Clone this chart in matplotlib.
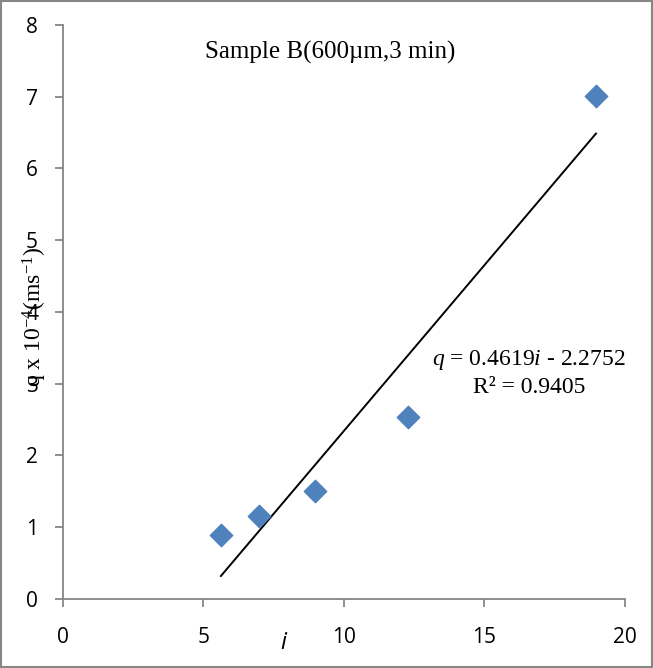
import matplotlib.pyplot as plt
import numpy as np

plt.rcParams['mathtext.fontset'] = 'custom'
plt.rcParams['mathtext.it'] = 'Liberation Serif:italic'
plt.rcParams['mathtext.rm'] = 'Liberation Serif'

i_vals = [5.62, 6.97, 8.97, 12.28, 18.97]
q_vals = [0.89, 1.15, 1.50, 2.54, 7.01]
slope, intercept = 0.4619, -2.2752
x_ticks = [0, 5, 10, 15, 20]
y_ticks = [0, 1, 2, 3, 4, 5, 6, 7, 8]

fig = plt.figure(figsize=(6.53, 6.68), dpi=100)
ax = fig.add_axes([0.0965, 0.1033, 0.8605, 0.8593])

ax.scatter(i_vals, q_vals, marker='D', s=130, color='#4F81BD', zorder=3)
x_fit = np.array([min(i_vals), max(i_vals)])
ax.plot(x_fit, slope * x_fit + intercept, color='black', lw=1.4)

ax.set_xlim(0, 20)
ax.set_ylim(0, 8)
ax.set_xticks(x_ticks)
ax.set_yticks(y_ticks)
for s in ['top', 'right']:
    ax.spines[s].set_visible(False)
for s in ['left', 'bottom']:
    ax.spines[s].set_color('#868686')
    ax.spines[s].set_linewidth(1.3)
ax.tick_params(direction='out', length=6, width=1.3, color='#868686',
               labelsize=15)
ax.tick_params(axis='x', pad=14)
ax.tick_params(axis='y', pad=12)
for lab in ax.get_xticklabels() + ax.get_yticklabels():
    lab.set_fontfamily('Open Sans')

ax.text(0.476, 0.972, 'Sample B(600µm,3 min)', transform=ax.transAxes,
        ha='center', va='top', fontsize=18, family='Liberation Serif')
ax.text(16.6, 3.33, '$q$ = 0.4619$i$ - 2.2752', ha='center', va='center',
        fontsize=17, family='Liberation Serif')
ax.text(16.6, 2.95, 'R² = 0.9405', ha='center', va='center',
        fontsize=17, family='Liberation Serif')

fig.text(0.434, 0.038, 'i', fontsize=17, style='italic', family='Open Sans',
         ha='center', va='center')
fig.text(0.054, 0.525, 'q x 10$^{-4}$(ms$^{-1}$)', rotation=90, fontsize=17,
         family='Liberation Serif', ha='center', va='center')

fig.patches.append(plt.Rectangle((0.002, 0.002), 0.996, 0.996, transform=fig.transFigure,
                                 fill=False, edgecolor='#868686', lw=1.5))

fig.savefig('out.png', dpi=100)
